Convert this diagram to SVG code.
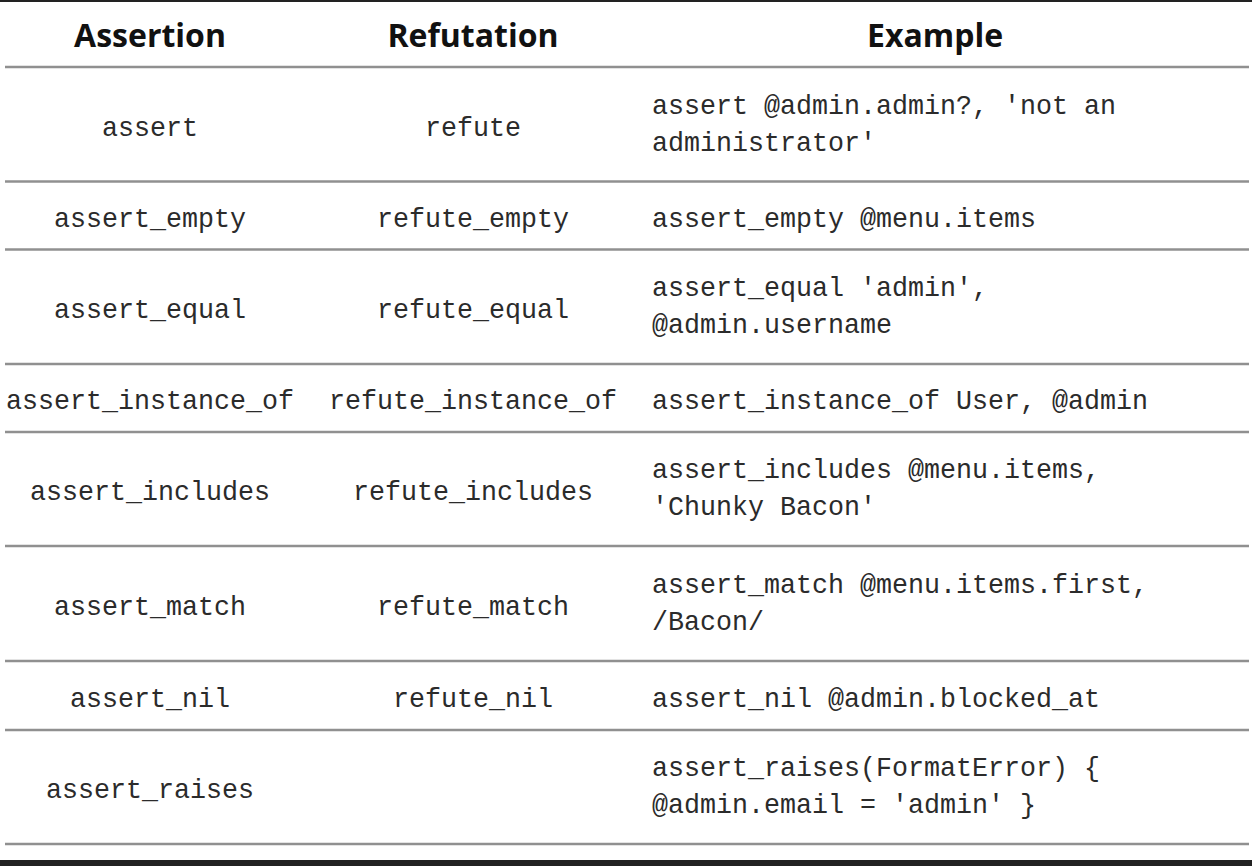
<svg xmlns="http://www.w3.org/2000/svg" width="1252" height="866" viewBox="0 0 1252 866">
<style>
.h{font-family:"Open Sans","Noto Sans",sans-serif;font-weight:700;font-size:32px;fill:#111;text-anchor:middle}
.m{font-family:"Liberation Mono","DejaVu Sans Mono",monospace;font-size:28px;fill:#2b2b2b}
.c{text-anchor:middle}
.rule{stroke:#909090;stroke-width:2.4}
</style>
<rect x="0" y="0" width="1252" height="866" fill="#fff"/>
<rect x="0" y="0" width="1252" height="2" fill="#222"/>
<rect x="0" y="860" width="1252" height="6" fill="#222"/>
<g id="rules">
<line class="rule" x1="5" y1="67" x2="1249" y2="67"/>
<line class="rule" x1="5" y1="181.5" x2="1249" y2="181.5"/>
<line class="rule" x1="5" y1="249.5" x2="1249" y2="249.5"/>
<line class="rule" x1="5" y1="364" x2="1249" y2="364"/>
<line class="rule" x1="5" y1="432" x2="1249" y2="432"/>
<line class="rule" x1="5" y1="546" x2="1249" y2="546"/>
<line class="rule" x1="5" y1="661" x2="1249" y2="661"/>
<line class="rule" x1="5" y1="730" x2="1249" y2="730"/>
<line class="rule" x1="5" y1="844" x2="1249" y2="844"/>
</g>
<g id="header">
<text class="h" x="150" y="47">Assertion</text>
<text class="h" x="473" y="47">Refutation</text>
<text class="h" x="935" y="47">Example</text>
</g>
<g id="row-assert">
<text class="m c" x="150" y="135.5" textLength="96" lengthAdjust="spacingAndGlyphs">assert</text>
<text class="m c" x="473" y="135.5" textLength="96" lengthAdjust="spacingAndGlyphs">refute</text>
<text class="m" x="652" y="113.5" textLength="464" lengthAdjust="spacingAndGlyphs">assert @admin.admin?, 'not an</text>
<text class="m" x="652" y="150.5" textLength="224" lengthAdjust="spacingAndGlyphs">administrator'</text>
</g>
<g id="row-empty">
<text class="m c" x="150" y="226.5" textLength="192" lengthAdjust="spacingAndGlyphs">assert_empty</text>
<text class="m c" x="473" y="226.5" textLength="192" lengthAdjust="spacingAndGlyphs">refute_empty</text>
<text class="m" x="652" y="226.5" textLength="384" lengthAdjust="spacingAndGlyphs">assert_empty @menu.items</text>
</g>
<g id="row-equal">
<text class="m c" x="150" y="318" textLength="192" lengthAdjust="spacingAndGlyphs">assert_equal</text>
<text class="m c" x="473" y="318" textLength="192" lengthAdjust="spacingAndGlyphs">refute_equal</text>
<text class="m" x="652" y="296" textLength="336" lengthAdjust="spacingAndGlyphs">assert_equal 'admin',</text>
<text class="m" x="652" y="333" textLength="240" lengthAdjust="spacingAndGlyphs">@admin.username</text>
</g>
<g id="row-instance-of">
<text class="m c" x="150" y="409" textLength="288" lengthAdjust="spacingAndGlyphs">assert_instance_of</text>
<text class="m c" x="473" y="409" textLength="288" lengthAdjust="spacingAndGlyphs">refute_instance_of</text>
<text class="m" x="652" y="409" textLength="496" lengthAdjust="spacingAndGlyphs">assert_instance_of User, @admin</text>
</g>
<g id="row-includes">
<text class="m c" x="150" y="500" textLength="240" lengthAdjust="spacingAndGlyphs">assert_includes</text>
<text class="m c" x="473" y="500" textLength="240" lengthAdjust="spacingAndGlyphs">refute_includes</text>
<text class="m" x="652" y="478" textLength="448" lengthAdjust="spacingAndGlyphs">assert_includes @menu.items,</text>
<text class="m" x="652" y="515" textLength="224" lengthAdjust="spacingAndGlyphs">'Chunky Bacon'</text>
</g>
<g id="row-match">
<text class="m c" x="150" y="614.5" textLength="192" lengthAdjust="spacingAndGlyphs">assert_match</text>
<text class="m c" x="473" y="614.5" textLength="192" lengthAdjust="spacingAndGlyphs">refute_match</text>
<text class="m" x="652" y="592.5" textLength="496" lengthAdjust="spacingAndGlyphs">assert_match @menu.items.first,</text>
<text class="m" x="652" y="629.5" textLength="112" lengthAdjust="spacingAndGlyphs">/Bacon/</text>
</g>
<g id="row-nil">
<text class="m c" x="150" y="706.5" textLength="160" lengthAdjust="spacingAndGlyphs">assert_nil</text>
<text class="m c" x="473" y="706.5" textLength="160" lengthAdjust="spacingAndGlyphs">refute_nil</text>
<text class="m" x="652" y="706.5" textLength="448" lengthAdjust="spacingAndGlyphs">assert_nil @admin.blocked_at</text>
</g>
<g id="row-raises">
<text class="m c" x="150" y="798" textLength="208" lengthAdjust="spacingAndGlyphs">assert_raises</text>
<text class="m" x="652" y="776" textLength="448" lengthAdjust="spacingAndGlyphs">assert_raises(FormatError) {</text>
<text class="m" x="652" y="813" textLength="384" lengthAdjust="spacingAndGlyphs">@admin.email = 'admin' }</text>
</g>
</svg>
